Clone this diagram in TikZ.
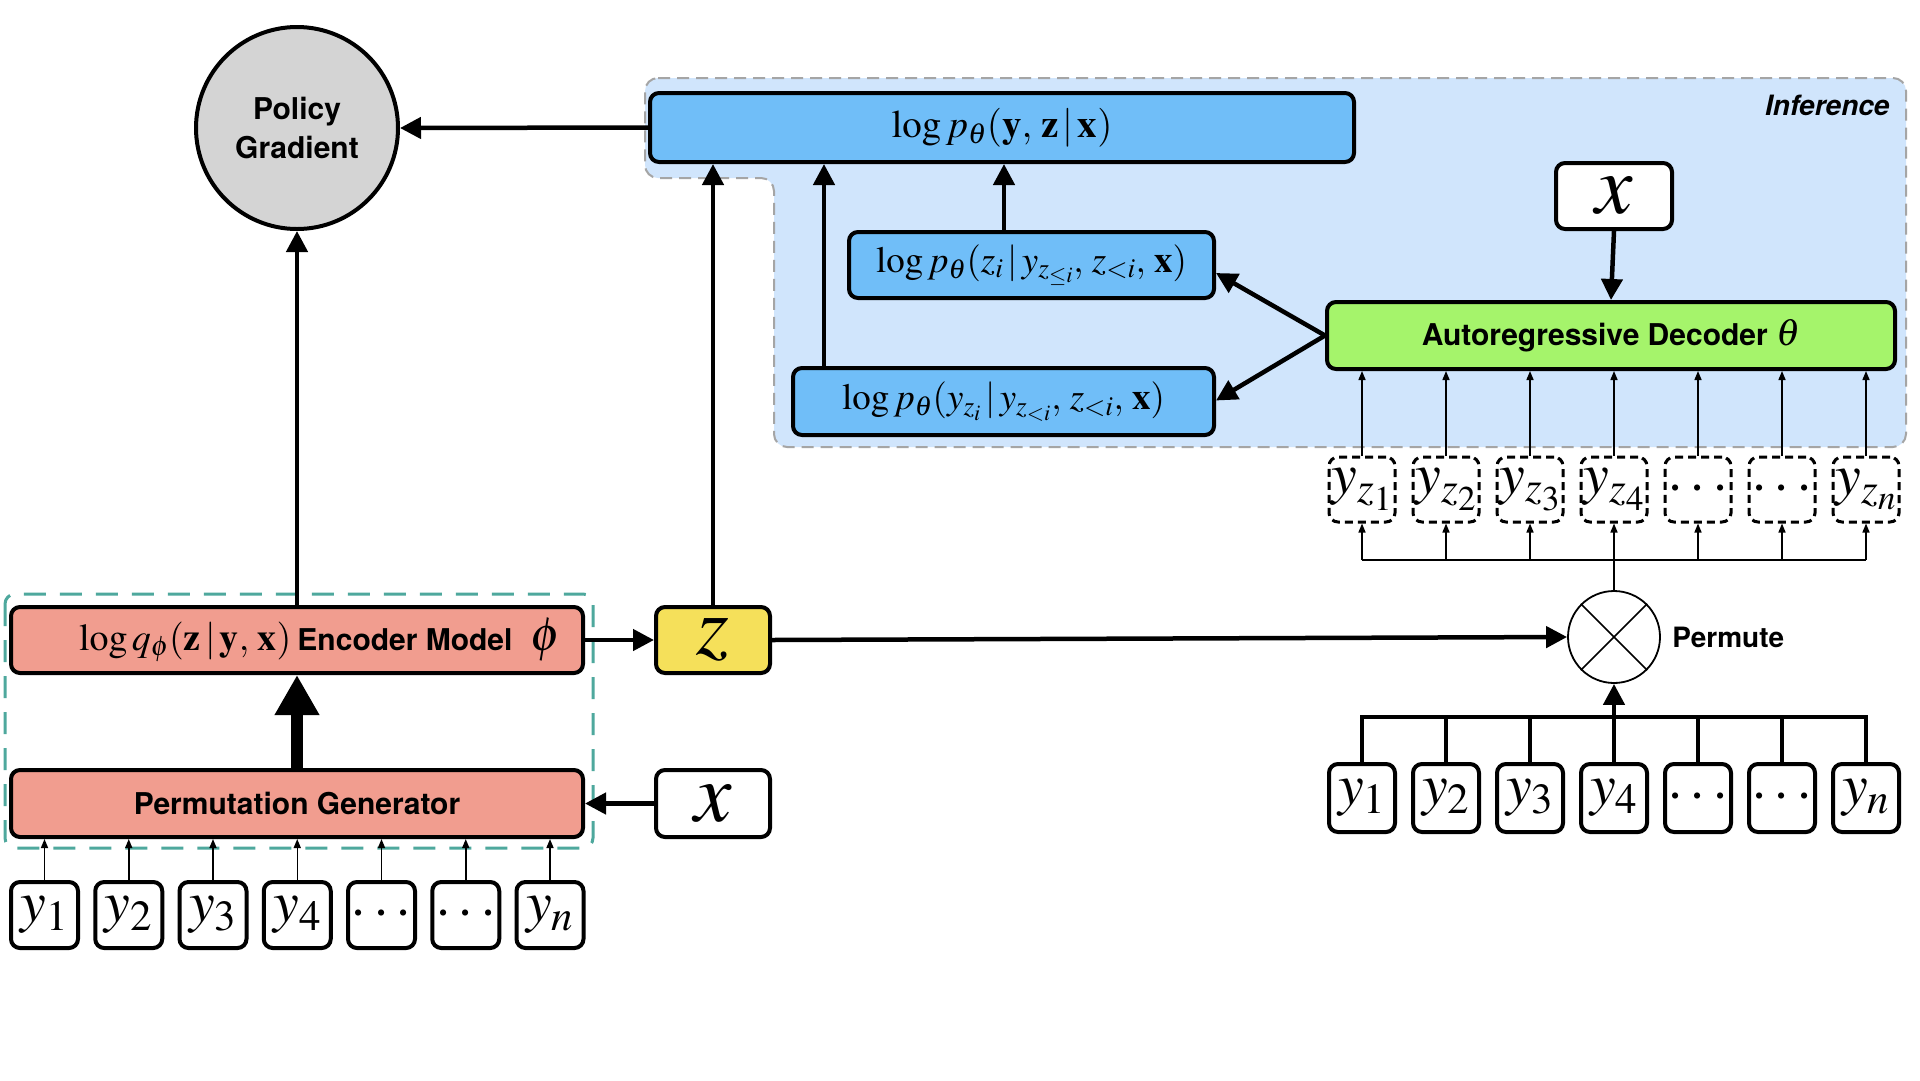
\documentclass[tikz,border=0pt]{standalone}
\usepackage{mathptmx}
\usepackage[no-math]{fontspec}
\newfontfamily\hv{TeX Gyre Heros}
\usetikzlibrary{arrows.meta,calc}
\definecolor{infbg}{RGB}{208,229,252}
\definecolor{infborder}{RGB}{165,165,165}
\definecolor{boxblue}{RGB}{112,190,248}
\definecolor{decgreen}{RGB}{165,244,107}
\definecolor{zyellow}{RGB}{245,224,90}
\definecolor{salmon}{RGB}{241,157,143}
\definecolor{pggray}{RGB}{212,212,212}
\definecolor{tealdash}{RGB}{78,168,157}
\newcommand{\fsz}[1]{\fontsize{#1}{#1}\selectfont}
\begin{document}
\begin{tikzpicture}[x=1pt,y=-1pt,
  blk/.style={draw=black, line width=4pt, rounded corners=9pt, inner sep=0pt},
  bluebox/.style={blk, fill=boxblue, font=\fsz{37}},
  tok/.style={blk, fill=white, minimum width=66pt, minimum height=67pt, font=\fsz{58}},
  dtok/.style={draw=black, line width=3pt, dash pattern=on 8pt off 5pt, rounded corners=9pt, inner sep=0pt, minimum width=66pt, minimum height=65pt, font=\fsz{58}},
  thickarr/.style={line width=4.5pt, -{Triangle[length=21pt,width=21pt]}},
  thinarr/.style={line width=1.5pt, -{Triangle[length=9pt,width=7pt]}},
  thinline/.style={line width=1.5pt},
  thickline/.style={line width=4.5pt},
  hugearr/.style={line width=12pt, -{Triangle[length=40pt,width=42pt]}}
]
\useasboundingbox (0,0) rectangle (1920,1080);
\fill[white] (0,0) rectangle (1920,1080);

% inference region
\path[fill=infbg, draw=infborder, line width=2pt, dash pattern=on 12pt off 7pt, rounded corners=13pt]
  (645,78) -- (1906,78) -- (1906,447) -- (774,447) -- (774,178) -- (645,178) -- cycle;
\node[anchor=east, font=\hv\bfseries\itshape\fsz{28}] (inf) at (1893,105) {Inference};

% encoder group dashed frame
\draw[tealdash, line width=3pt, dash pattern=on 22pt off 14pt, rounded corners=10pt]
  (5,594) rectangle (593,848);

% policy gradient
\node[circle, draw=black, line width=4pt, fill=pggray, minimum size=202pt, inner sep=0pt,
      align=center, font=\hv\bfseries\fontsize{30}{39}\selectfont] (pg) at (297,128) {Policy\\Gradient};

% blue boxes
\node[bluebox, minimum width=704pt, minimum height=69pt, font=\fsz{39}] (top) at (1002,127.5)
  {$\log p_\theta(\mathbf{y},\,\mathbf{z}\,|\,\mathbf{x})$};
\node[bluebox, minimum width=365pt, minimum height=66pt] (b2) at (1031.5,265)
  {$\log p_\theta(z_i\,|\,y_{z_{\leq i}},\, z_{<i},\, \mathbf{x})$};
\node[bluebox, minimum width=421pt, minimum height=67pt] (b3) at (1003.5,401.5)
  {$\log p_\theta(y_{z_i}\,|\,y_{z_{<i}},\, z_{<i},\, \mathbf{x})$};

% decoder
\node[blk, fill=decgreen, minimum width=568pt, minimum height=67pt, font=\hv\bfseries\fsz{30}] (dec) at (1611,335.5)
  {Autoregressive Decoder {\fsz{38}$\theta$}};
\node[blk, fill=white, minimum width=116pt, minimum height=66pt, font=\fsz{84}] (xd) at (1614,196) {$x$};

% dashed permuted tokens
\foreach \k/\t in {1/{y_{z_1}},2/{y_{z_2}},3/{y_{z_3}},4/{y_{z_4}},5/{\cdots},6/{\cdots},7/{y_{z_n}}}{
  \node[dtok] (yz\k) at ({1362+84*(\k-1)},489.5) {$\t$};
}

% permute
\node[circle, draw=black, line width=1.8pt, fill=white, minimum size=92pt, inner sep=0pt] (perm) at (1614,637) {};
\draw[line width=1.5pt] (perm.north west) -- (perm.south east);
\draw[line width=1.5pt] (perm.north east) -- (perm.south west);
\node[anchor=west, font=\hv\bfseries\fsz{28}] (permlbl) at ($(perm.east)+(8,0)$) {Permute};

% right tokens
\foreach \k/\t in {1/{y_1},2/{y_2},3/{y_3},4/{y_4},5/{\cdots},6/{\cdots},7/{y_n}}{
  \node[tok, minimum height=68pt] (ry\k) at ({1362+84*(\k-1)},798) {$\t$};
}

% encoder, z, generator, x
\node[blk, fill=salmon, minimum width=572pt, minimum height=66pt] (enc) at (297,640) {};
\node[anchor=center, font=\fsz{38}] (enctext) at (320,640)
  {$\log q_\phi(\mathbf{z}\,|\,\mathbf{y},\,\mathbf{x})$\hspace{6pt}{\hv\bfseries\fsz{30}Encoder Model}\hspace{18pt}{\fsz{48}$\phi$}};
\node[blk, fill=zyellow, minimum width=114pt, minimum height=66pt, font=\fsz{84}] (z) at (713,640) {$z$};
\node[blk, fill=salmon, minimum width=572pt, minimum height=67pt, font=\hv\bfseries\fsz{30}] (gen) at (297,803.5) {Permutation Generator};
\node[blk, fill=white, minimum width=114pt, minimum height=67pt, font=\fsz{84}] (xl) at (713,803.5) {$x$};

% left tokens
\foreach \k/\t in {1/{y_1},2/{y_2},3/{y_3},4/{y_4},5/{\cdots},6/{\cdots},7/{y_n}}{
  \node[tok, minimum width=67pt, minimum height=66pt] (ly\k) at ({44.5+84.25*(\k-1)},915) {$\t$};
}

% connectors
\coordinate (c1) at (824,0);
\coordinate (c2) at (1004,0);
\coordinate (bus1) at (0,560);
\coordinate (bus2) at (0,717);

\draw[thickarr] (top.west) -- (pg.east);
\draw[thickarr] (enc.north) -- (pg.south);
\draw[thickarr] (z.north) -- (z.north |- top.south);
\draw[thickarr] (b3.north -| c1) -- (top.south -| c1);
\draw[thickarr] (b2.north -| c2) -- (top.south -| c2);
\draw[thickarr] (dec.west) -- ($(b2.east)+(0,8)$);
\draw[thickarr] (dec.west) -- ($(b3.east)+(0,-1)$);
\draw[thickarr] (xd.south) -- (dec.north);

\foreach \k in {1,...,7}{
  \draw[thinarr] (yz\k.north) -- (yz\k.north |- dec.south);
  \draw[thinarr] (yz\k.south |- bus1) -- (yz\k.south);
  \draw[thinarr] (ly\k.north) -- (ly\k.north |- gen.south);
}
\draw[thinline] (yz1.south |- bus1) -- (yz7.south |- bus1);
\draw[thinline] (perm.north) -- (perm.north |- bus1);

\draw[thickline] (ry1.north) -- (ry1.north |- bus2) -- (ry7.north |- bus2) -- (ry7.north);
\foreach \k in {2,3,5,6}{
  \draw[thickline] (ry\k.north) -- (ry\k.north |- bus2);
}
\draw[thickarr] (ry4.north) -- (perm.south);

\draw[thickarr] (z.east) -- (perm.west);
\draw[thickarr] (enc.east) -- (z.west);
\draw[thickarr] (xl.west) -- (gen.east);
\draw[hugearr] (gen.north) -- (enc.south);
\end{tikzpicture}
\end{document}
